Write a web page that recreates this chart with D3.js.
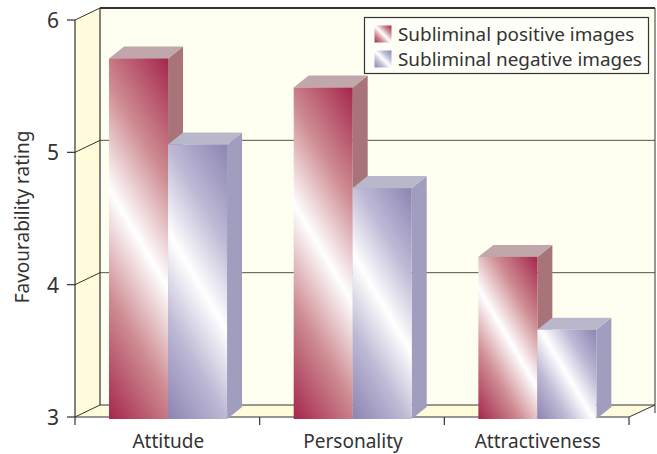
<!DOCTYPE html>
<html>
<head>
<meta charset="utf-8">
<script src="https://cdnjs.cloudflare.com/ajax/libs/d3/7.8.5/d3.min.js"></script>
<style>
  html, body { margin: 0; padding: 0; background: #fff; }
  text { font-family: "Noto Sans", "Open Sans", sans-serif; fill: #333; }
</style>
</head>
<body>
<div id="chart"></div>
<script>
var width = 657;
var height = 454;

var categories = ["Attitude", "Personality", "Attractiveness"];
var seriesNames = ["Subliminal positive images", "Subliminal negative images"];
var positiveValues = [5.71, 5.49, 4.21];
var negativeValues = [5.06, 4.73, 3.66];
var yTicks = [3, 4, 5, 6];

var dark = ["#a5264c", "#8c84b2"];
var mid = ["#ce8c92", "#bdb9d5"];
var sideColor = ["#a97479", "#a09dbe"];
var topColor = ["#bfa7ac", "#b9b8ca"];

var depthX = 25, depthY = 12;       // wall depth
var barDepthX = 15, barDepthY = 12; // depth of each bar

var x = d3.scaleBand().domain(categories).range([75, 629]);
var y = d3.scaleLinear().domain([3, 6]).range([417, 20]);
var barX = d3.scaleBand().domain([0, 1]).range([0, 118]);
var groupOffset = (x.bandwidth() - 118) / 2 + 0.7;

var svg = d3.select("#chart").append("svg")
    .attr("width", width)
    .attr("height", height)
    .style("display", "block");

var defs = svg.append("defs");

// walls and floor
var left = x.range()[0], right = x.range()[1];
var top6 = y(6), bottom = y(3);

svg.append("polygon")
    .attr("points", [[left + depthX, top6 - depthY], [right + depthX + 1, top6 - depthY], [right + depthX + 1, bottom - depthY], [left + depthX, bottom - depthY]].join(" "))
    .attr("fill", "#fffff1");

svg.append("polygon")
    .attr("points", [[left, top6], [left + depthX, top6 - depthY], [left + depthX, bottom - depthY], [left, bottom]].join(" "))
    .attr("fill", "#fffbdb");

svg.append("polygon")
    .attr("points", [[left, bottom], [left + depthX, bottom - depthY], [right + depthX + 1, bottom - depthY], [right, bottom]].join(" "))
    .attr("fill", "#fffbdb");

// gridlines on the back wall and their run across the left wall
yTicks.slice(1, 3).forEach(function(t) {
    svg.append("line")
        .attr("x1", left + depthX).attr("x2", right + depthX + 1)
        .attr("y1", y(t) - depthY).attr("y2", y(t) - depthY)
        .attr("stroke", "#55554a").attr("stroke-width", 1);
});

yTicks.forEach(function(t) {
    svg.append("line")
        .attr("x1", left).attr("y1", y(t))
        .attr("x2", left + depthX).attr("y2", y(t) - depthY)
        .attr("stroke", "#333").attr("stroke-width", 1);
});

svg.append("line")
    .attr("x1", left + depthX).attr("x2", right + depthX + 1)
    .attr("y1", top6 - depthY).attr("y2", top6 - depthY)
    .attr("stroke", "#333").attr("stroke-width", 2);

svg.append("line")
    .attr("x1", left + depthX).attr("x2", right + depthX + 1)
    .attr("y1", bottom - depthY).attr("y2", bottom - depthY)
    .attr("stroke", "#333").attr("stroke-width", 1);

svg.append("line")
    .attr("x1", left + depthX).attr("x2", left + depthX)
    .attr("y1", top6 - depthY).attr("y2", bottom - depthY)
    .attr("stroke", "#333").attr("stroke-width", 1.2);

svg.append("line")
    .attr("x1", right + depthX + 1).attr("x2", right + depthX + 1)
    .attr("y1", top6 - depthY).attr("y2", bottom - depthY + 8)
    .attr("stroke", "#333").attr("stroke-width", 1);

svg.append("line")
    .attr("x1", right).attr("y1", bottom)
    .attr("x2", right + depthX + 1).attr("y2", bottom - depthY)
    .attr("stroke", "#333").attr("stroke-width", 1);

// front axes
svg.append("line")
    .attr("x1", left).attr("x2", right)
    .attr("y1", bottom).attr("y2", bottom)
    .attr("stroke", "#333").attr("stroke-width", 1.2);

svg.append("line")
    .attr("x1", left).attr("x2", left)
    .attr("y1", top6).attr("y2", bottom + 8)
    .attr("stroke", "#333").attr("stroke-width", 1.2);

yTicks.forEach(function(t) {
    svg.append("line")
        .attr("x1", left - 8).attr("x2", left)
        .attr("y1", y(t)).attr("y2", y(t))
        .attr("stroke", "#333").attr("stroke-width", 1.2);

    svg.append("text")
        .attr("x", 59)
        .attr("y", y(t) + 8)
        .attr("text-anchor", "end")
        .style("font-size", "21px")
        .text(t);
});

categories.forEach(function(c) {
    svg.append("line")
        .attr("x1", x(c) + x.bandwidth()).attr("x2", x(c) + x.bandwidth())
        .attr("y1", bottom).attr("y2", bottom + 8)
        .attr("stroke", "#333").attr("stroke-width", 1.2);

    svg.append("text")
        .attr("x", x(c) + x.bandwidth() / 2 + 1)
        .attr("y", 448)
        .attr("text-anchor", "middle")
        .style("font-size", "19px")
        .text(c);
});

svg.append("text")
    .attr("transform", "translate(29,217) rotate(-90)")
    .attr("text-anchor", "middle")
    .style("font-size", "19px")
    .text("Favourability rating");

function addStops(g, i) {
    g.append("stop").attr("offset", 0).attr("stop-color", dark[i]);
    g.append("stop").attr("offset", 0.27).attr("stop-color", mid[i]);
    g.append("stop").attr("offset", 0.5).attr("stop-color", "#fff");
    g.append("stop").attr("offset", 0.73).attr("stop-color", mid[i]);
    g.append("stop").attr("offset", 1).attr("stop-color", dark[i]);
}

// diagonal gradient with the white band running down to the right
function makeGradient(id, s, bx, by, bw, bh) {
    var nx = 0.86, ny = -0.51; // normal to the white band
    var half = (Math.abs(nx) * bw + Math.abs(ny) * bh) / 2;
    var cx = bx + bw / 2, cy = by + bh / 2;
    var g = defs.append("linearGradient")
        .attr("id", id)
        .attr("gradientUnits", "userSpaceOnUse")
        .attr("x1", cx + nx * half).attr("y1", cy + ny * half)
        .attr("x2", cx - nx * half).attr("y2", cy - ny * half);
    addStops(g, s);
}

function drawBar(cat, s, value) {
    var bx = x(cat) + groupOffset + barX(s);
    var bw = barX.bandwidth();
    var by = y(value);
    var base = bottom + 2;
    var id = "grad" + categories.indexOf(cat) + "_" + s;

    makeGradient(id, s, bx, by, bw, base - by);

    svg.append("polygon")
        .attr("points", [[bx + bw, by], [bx + bw + barDepthX, by - barDepthY], [bx + bw + barDepthX, base - barDepthY], [bx + bw, base]].join(" "))
        .attr("fill", sideColor[s]);

    svg.append("polygon")
        .attr("points", [[bx, by], [bx + barDepthX, by - barDepthY], [bx + bw + barDepthX, by - barDepthY], [bx + bw, by]].join(" "))
        .attr("fill", topColor[s]);

    svg.append("rect")
        .attr("x", bx).attr("y", by)
        .attr("width", bw).attr("height", base - by)
        .attr("fill", "url(#" + id + ")");
}

categories.forEach(function(c, i) {
    drawBar(c, 0, positiveValues[i]);
    drawBar(c, 1, negativeValues[i]);
});

// legend
var legend = svg.append("g").attr("transform", "translate(364.5,17.5)");

legend.append("rect")
    .attr("width", 284).attr("height", 56)
    .attr("fill", "#fffffa")
    .attr("stroke", "#333").attr("stroke-width", 1.2);

seriesNames.forEach(function(name, i) {
    var sy = 8 + i * 25;
    var lg = defs.append("linearGradient")
        .attr("id", "legend" + i)
        .attr("x1", 1).attr("y1", 0).attr("x2", 0).attr("y2", 1);
    addStops(lg, i);

    legend.append("rect")
        .attr("x", 10).attr("y", sy)
        .attr("width", 17).attr("height", 17)
        .attr("fill", "url(#legend" + i + ")");

    legend.append("text")
        .attr("x", 33.5).attr("y", sy + 15.5)
        .style("font-size", "18.9px")
        .text(name);
});
</script>
</body>
</html>
